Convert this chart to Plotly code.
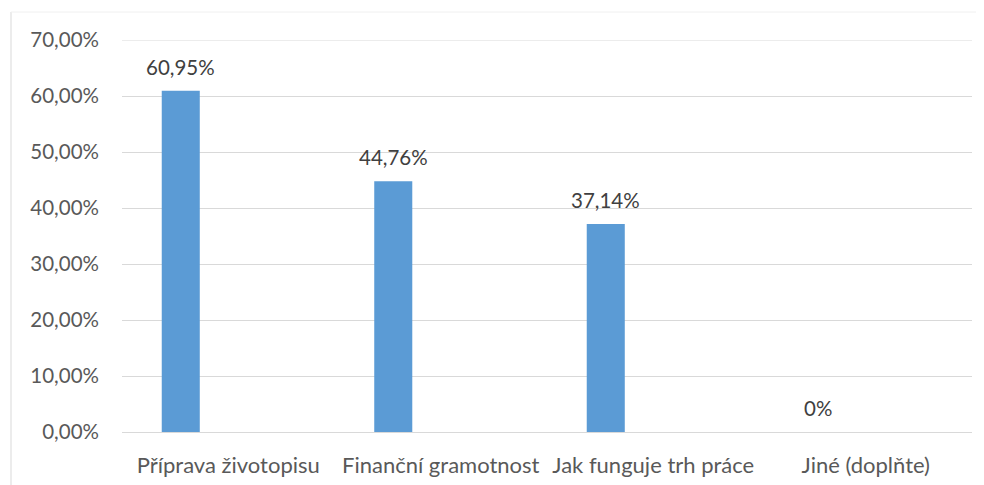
import plotly.graph_objects as go

categories = ["Příprava životopisu", "Finanční gramotnost", "Jak funguje trh práce", "Jiné (doplňte)"]
values = [60.95, 44.76, 37.14, 0]
value_labels = ["60,95%", "44,76%", "37,14%", "0%"]
tick_vals = [0, 10, 20, 30, 40, 50, 60, 70]
tick_text = ["0,00%", "10,00%", "20,00%", "30,00%", "40,00%", "50,00%", "60,00%", "70,00%"]

# page body has an 8px margin, so the figure starts at (8, 8)
OFF = 8
W, H = 984 - OFF, 485 - OFF
L, R, T, B = 122 - OFF, 12, 40 - OFF, 53
pw, ph = W - L - R, H - T - B

def px_x(x):
    return (x - OFF - L) / pw

def px_y(y):
    return (H - B - (y - OFF)) / ph

FONT = "Lato, Open Sans, sans-serif"
BAR_W, BAR_OFF = 0.179, -0.313
cat_px = pw / len(categories)
label_xshift = (BAR_OFF + BAR_W / 2) * cat_px

fig = go.Figure(go.Bar(
    x=categories, y=values,
    width=BAR_W, offset=BAR_OFF,
    marker=dict(color="#5b9bd5", line=dict(width=0)),
    hoverinfo="skip",
))

for c, v, t in zip(categories, values, value_labels):
    fig.add_annotation(x=c, y=v, text=t, showarrow=False, xanchor="center", yanchor="bottom",
                       xshift=label_xshift, yshift=10,
                       font=dict(size=20.5, color="#404040", family=FONT))

fig.add_shape(type="line", xref="paper", yref="y", x0=0, x1=1, y0=tick_vals[-1], y1=tick_vals[-1],
              line=dict(color="#d9d9d9", width=1), layer="below")

fig.update_layout(
    width=W, height=H,
    margin=dict(l=L, r=R, t=T, b=B, autoexpand=False),
    paper_bgcolor="white", plot_bgcolor="white",
    showlegend=False,
    font=dict(family=FONT, size=20.5, color="#595959"),
    xaxis=dict(showgrid=False, showline=False, ticks="", ticklabelstandoff=18,
               tickfont=dict(size=22, color="#595959")),
    yaxis=dict(range=[0, 70], tickvals=tick_vals, ticktext=tick_text,
               showgrid=True, gridcolor="#d9d9d9", gridwidth=1,
               zeroline=True, zerolinecolor="#d9d9d9", zerolinewidth=1,
               showline=False, ticks="", ticklabelstandoff=22,
               tickfont=dict(size=20.5, color="#595959")),
)
fig.add_shape(type="line", xref="paper", yref="paper", x0=px_x(11), x1=px_x(11), y0=px_y(12), y1=px_y(490),
              line=dict(color="#d9d9d9", width=1))
fig.add_shape(type="line", xref="paper", yref="paper", x0=px_x(11), x1=px_x(990), y0=px_y(12), y1=px_y(12),
              line=dict(color="#f0f0f0", width=1))

fig.write_html("out.html", config={"displayModeBar": False})
